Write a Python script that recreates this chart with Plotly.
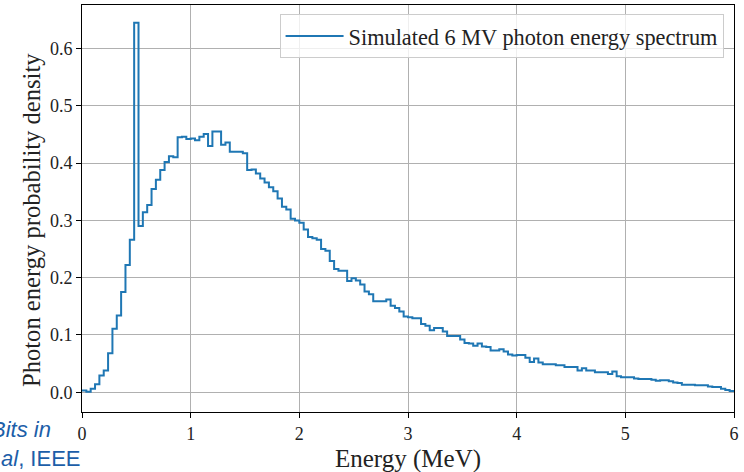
import plotly.graph_objects as go

# ---- data ----
BIN_WIDTH = 0.04  # MeV
density = [
    0.003, 0.001, 0.006, 0.014, 0.029, 0.038, 0.068, 0.111, 0.134, 0.175,
    0.222, 0.266, 0.645, 0.290, 0.314, 0.327, 0.355, 0.371, 0.388, 0.402,
    0.412, 0.410, 0.445, 0.446, 0.442, 0.443, 0.440, 0.446, 0.451, 0.430,
    0.455, 0.455, 0.432, 0.436, 0.420, 0.420, 0.420, 0.417, 0.388, 0.389,
    0.382, 0.373, 0.366, 0.358, 0.351, 0.338, 0.324, 0.319, 0.303, 0.300,
    0.296, 0.284, 0.271, 0.269, 0.266, 0.250, 0.247, 0.229, 0.215, 0.212,
    0.212, 0.194, 0.199, 0.195, 0.188, 0.176, 0.171, 0.159, 0.159, 0.159,
    0.162, 0.151, 0.147, 0.141, 0.132, 0.131, 0.129, 0.129, 0.119, 0.116,
    0.108, 0.112, 0.112, 0.106, 0.098, 0.098, 0.098, 0.092, 0.086, 0.085,
    0.081, 0.085, 0.080, 0.079, 0.073, 0.073, 0.075, 0.071, 0.066, 0.064,
    0.065, 0.065, 0.060, 0.053, 0.059, 0.052, 0.049, 0.049, 0.049, 0.047,
    0.047, 0.044, 0.044, 0.044, 0.038, 0.042, 0.038, 0.038, 0.035, 0.035,
    0.035, 0.032, 0.036, 0.028, 0.026, 0.026, 0.026, 0.024, 0.023, 0.023,
    0.023, 0.022, 0.020, 0.021, 0.021, 0.019, 0.017, 0.016, 0.013, 0.013,
    0.013, 0.012, 0.012, 0.012, 0.010, 0.009, 0.009, 0.006, 0.004, 0.002,
]
x_ticks = [0, 1, 2, 3, 4, 5, 6]
y_ticks = [0.0, 0.1, 0.2, 0.3, 0.4, 0.5, 0.6]
series_name = "Simulated 6 MV photon energy spectrum"

edges = [round(i * BIN_WIDTH, 4) for i in range(len(density) + 1)]
y_step = density + [density[-1]]

SERIF = "Liberation Serif, Times New Roman, serif"
SANS = "Liberation Sans, Arial, sans-serif"

fig = go.Figure()
fig.add_trace(go.Scatter(
    x=edges, y=y_step, mode="lines", line_shape="hv",
    line=dict(color="#1f77b4", width=2),
    name=series_name, showlegend=True,
))

axis_common = dict(
    showline=True, linecolor="black", linewidth=1, mirror=True,
    ticks="outside", ticklen=5, tickwidth=1, tickcolor="black",
    showgrid=True, gridcolor="#b0b0b0", gridwidth=1, zeroline=False,
    tickfont=dict(family=SERIF, size=18, color="#222222"),
)

fig.update_layout(
    width=744, height=472,
    margin=dict(l=82, r=10, t=5, b=60, autoexpand=False),
    paper_bgcolor="white", plot_bgcolor="white",
    xaxis=dict(range=[0, 6], tickvals=x_ticks, ticktext=[str(v) for v in x_ticks], **axis_common),
    yaxis=dict(range=[-0.0345, 0.676], tickvals=y_ticks, ticktext=[f"{v:.1f}" for v in y_ticks], **axis_common),
    legend=dict(x=0.984, y=0.978, xanchor="right", yanchor="top",
                bgcolor="rgba(255,255,255,0.8)", bordercolor="#cccccc", borderwidth=1,
                itemwidth=58,
                font=dict(family=SERIF, size=22.3, color="#222222")),
    showlegend=True,
)

fig.add_annotation(text="Energy (MeV)", xref="paper", yref="paper", x=0.5, y=-0.115,
                   xanchor="center", yanchor="middle", showarrow=False,
                   font=dict(family=SERIF, size=25, color="#222222"))
fig.add_annotation(text="Photon energy probability density", xref="paper", yref="paper",
                   x=(31 - 82) / 652, y=(412 - 220) / 407, xanchor="center", yanchor="middle",
                   textangle=-90, showarrow=False,
                   font=dict(family=SERIF, size=24.6, color="#222222"))
fig.add_annotation(text="<i>Bits in</i>", xref="paper", yref="paper",
                   x=(53 - 82) / 652, y=(412 - 429) / 407, xanchor="right", yanchor="middle",
                   showarrow=False, font=dict(family=SANS, size=22, color="#1c5ea8"))
fig.add_annotation(text="<i>al</i>, IEEE", xref="paper", yref="paper",
                   x=(82 - 82) / 652, y=(412 - 458) / 407, xanchor="right", yanchor="middle",
                   showarrow=False, font=dict(family=SANS, size=22, color="#1c5ea8"))

fig.write_html("out.html")
